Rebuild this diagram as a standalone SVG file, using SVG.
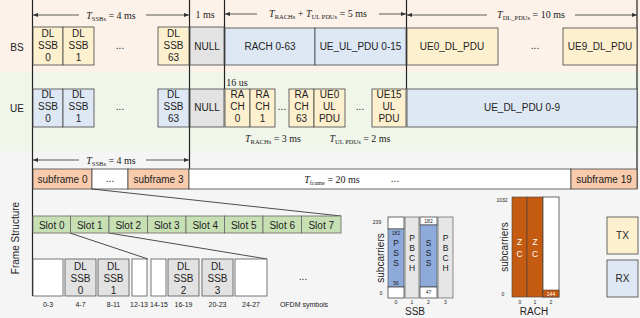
<svg xmlns="http://www.w3.org/2000/svg" width="640" height="318" viewBox="0 0 640 318">
<defs>
<marker id="ah" viewBox="0 0 6 6" refX="6" refY="3" markerWidth="5" markerHeight="5" orient="auto-start-reverse" markerUnits="userSpaceOnUse">
<path d="M0,0.5 L6,3 L0,5.5 z" fill="#333"/>
</marker>
<style>
.tx{fill:#fdf0cf;stroke:#444;stroke-width:0.8}
.rx{fill:#dde8f4;stroke:#444;stroke-width:0.8}
.nul{fill:#e3e3e3;stroke:#444;stroke-width:0.8}
.sub{fill:#f8cbad;stroke:#444;stroke-width:0.8}
.wh{fill:#ffffff;stroke:#444;stroke-width:0.8}
.slot{fill:#c6e0b4;stroke:#666;stroke-width:0.8}
.sym{fill:#ffffff;stroke:#555;stroke-width:0.8}
.symg{fill:#e2e2e2;stroke:#555;stroke-width:0.8}
.blue{fill:#8eaadb;stroke:#444;stroke-width:0.6}
.gry{fill:#e6e6e6;stroke:#444;stroke-width:0.6}
.or{fill:#c55a11;stroke:#444;stroke-width:0.6}
.ln{stroke:#222;stroke-width:1.2;fill:none}
.thin{stroke:#222;stroke-width:0.8;fill:none}
.ar{stroke:#333;stroke-width:0.8;fill:none}
text{font-family:"Liberation Sans",Arial,sans-serif;fill:#222}
.t{font-size:10px;text-anchor:middle}
.l{font-size:8.5px;text-anchor:middle}
.m{font-family:"Liberation Serif","Times New Roman",serif;font-size:10px;text-anchor:middle}
.tiny{font-size:5px;text-anchor:middle}
.w{fill:#fff}
</style>
</defs>
<!-- backgrounds -->
<rect x="0" y="0" width="640" height="72" fill="#fcf2ea"/>
<rect x="0" y="72" width="640" height="79" fill="#f1f6ea"/>
<rect x="0" y="151" width="640" height="167" fill="#f5f5f5"/>

<g id="axes">
<line class="ln" x1="32.5" y1="0" x2="32.5" y2="296"/>
<line class="ln" x1="189.5" y1="0" x2="189.5" y2="189"/>
<line class="ln" x1="224.5" y1="0" x2="224.5" y2="89"/>
<line class="ln" x1="406.5" y1="0" x2="406.5" y2="89"/>
<line class="ln" x1="637" y1="0" x2="637" y2="189"/>
</g>

<g id="timing">
<line class="ar" x1="33" y1="15" x2="79" y2="15" marker-start="url(#ah)"/>
<line class="ar" x1="146" y1="15" x2="189" y2="15" marker-end="url(#ah)"/>
<text class="m" x="111" y="18.5"><tspan font-style="italic">T</tspan><tspan font-size="6.5" dy="2">SSBs</tspan><tspan dy="-2"> = 4 ms</tspan></text>
<text class="m" x="205" y="18">1 ms</text>
<line class="ar" x1="225" y1="14" x2="257" y2="14" marker-start="url(#ah)"/>
<line class="ar" x1="379" y1="14" x2="406" y2="14" marker-end="url(#ah)"/>
<text class="m" x="318" y="17"><tspan font-style="italic">T</tspan><tspan font-size="6.5" dy="2">RACHs</tspan><tspan dy="-2"> + </tspan><tspan font-style="italic">T</tspan><tspan font-size="6.5" dy="2">UL PDUs</tspan><tspan dy="-2"> = 5 ms</tspan></text>
<line class="ar" x1="407" y1="15" x2="487" y2="15" marker-start="url(#ah)"/>
<line class="ar" x1="575" y1="15" x2="637" y2="15" marker-end="url(#ah)"/>
<text class="m" x="531" y="18"><tspan font-style="italic">T</tspan><tspan font-size="6.5" dy="2">DL_PDUs</tspan><tspan dy="-2"> = 10 ms</tspan></text>
<text class="m" x="237" y="86" font-size="9">16 us</text>
<text class="m" x="273" y="142"><tspan font-style="italic">T</tspan><tspan font-size="6.5" dy="2">RACHs</tspan><tspan dy="-2"> = 3 ms</tspan></text>
<text class="m" x="360" y="142"><tspan font-style="italic">T</tspan><tspan font-size="6.5" dy="2">UL PDUs</tspan><tspan dy="-2"> = 2 ms</tspan></text>
<line class="ar" x1="33" y1="160" x2="79" y2="160" marker-start="url(#ah)"/>
<line class="ar" x1="146" y1="160" x2="189" y2="160" marker-end="url(#ah)"/>
<text class="m" x="111" y="163.5"><tspan font-style="italic">T</tspan><tspan font-size="6.5" dy="2">SSBs</tspan><tspan dy="-2"> = 4 ms</tspan></text>
</g>

<g id="bs-row">
<text class="t" x="17" y="51">BS</text>
<rect class="tx" x="33" y="27" width="30" height="38"/>
<text class="t" x="48" y="37">DL</text><text class="t" x="48" y="49">SSB</text><text class="t" x="48" y="61">0</text>
<rect class="tx" x="63" y="27" width="31" height="38"/>
<text class="t" x="78.5" y="37">DL</text><text class="t" x="78.5" y="49">SSB</text><text class="t" x="78.5" y="61">1</text>
<text class="t" x="120" y="49">...</text>
<rect class="tx" x="158" y="27" width="31" height="38"/>
<text class="t" x="173.5" y="37">DL</text><text class="t" x="173.5" y="49">SSB</text><text class="t" x="173.5" y="61">63</text>
<rect class="nul" x="190" y="27" width="34" height="38"/>
<text class="t" x="207" y="50">NULL</text>
<rect class="rx" x="225" y="28" width="90" height="37"/>
<text class="t" x="270" y="50">RACH 0-63</text>
<rect class="rx" x="315" y="28" width="91" height="37"/>
<text class="t" x="360.5" y="50">UE_UL_PDU 0-15</text>
<rect class="tx" x="407" y="28" width="91" height="37"/>
<text class="t" x="452" y="50">UE0_DL_PDU</text>
<text class="t" x="535" y="49">...</text>
<rect class="tx" x="563" y="28" width="74" height="37"/>
<text class="t" x="600" y="50">UE9_DL_PDU</text>
</g>

<g id="ue-row">
<text class="t" x="17" y="112">UE</text>
<rect class="rx" x="33" y="89" width="30" height="38"/>
<text class="t" x="48" y="98">DL</text><text class="t" x="48" y="110">SSB</text><text class="t" x="48" y="122">0</text>
<rect class="rx" x="63" y="89" width="31" height="38"/>
<text class="t" x="78.5" y="98">DL</text><text class="t" x="78.5" y="110">SSB</text><text class="t" x="78.5" y="122">1</text>
<text class="t" x="120" y="110">...</text>
<rect class="rx" x="158" y="89" width="31" height="38"/>
<text class="t" x="173.5" y="98">DL</text><text class="t" x="173.5" y="110">SSB</text><text class="t" x="173.5" y="122">63</text>
<rect class="nul" x="190" y="89" width="34" height="38"/>
<text class="t" x="207" y="111">NULL</text>
<rect class="tx" x="225" y="89" width="25" height="38"/>
<text class="t" x="237.5" y="98">RA</text><text class="t" x="237.5" y="110">CH</text><text class="t" x="237.5" y="122">0</text>
<rect class="tx" x="250" y="89" width="25" height="38"/>
<text class="t" x="262.5" y="98">RA</text><text class="t" x="262.5" y="110">CH</text><text class="t" x="262.5" y="122">1</text>
<text class="t" x="282" y="110">...</text>
<rect class="tx" x="289" y="89" width="25" height="38"/>
<text class="t" x="301.5" y="98">RA</text><text class="t" x="301.5" y="110">CH</text><text class="t" x="301.5" y="122">63</text>
<rect class="tx" x="314" y="89" width="31" height="38"/>
<text class="t" x="329.5" y="98">UE0</text><text class="t" x="329.5" y="110">UL</text><text class="t" x="329.5" y="122">PDU</text>
<text class="t" x="360" y="110">...</text>
<rect class="tx" x="372" y="89" width="34" height="38"/>
<text class="t" x="389" y="98">UE15</text><text class="t" x="389" y="110">UL</text><text class="t" x="389" y="122">PDU</text>
<rect class="rx" x="407" y="89" width="230" height="38"/>
<text class="t" x="522" y="111">UE_DL_PDU 0-9</text>
</g>

<g id="subframes">
<rect class="sub" x="33" y="169" width="59" height="20"/>
<text class="t" x="62.5" y="183">subframe 0</text>
<rect class="wh" x="92" y="169" width="36" height="20"/>
<text class="t" x="110" y="182">...</text>
<rect class="sub" x="128" y="169" width="61" height="20"/>
<text class="t" x="158.5" y="183">subframe 3</text>
<rect class="wh" x="189" y="169" width="382" height="20"/>
<text class="m" x="332" y="183"><tspan font-style="italic">T</tspan><tspan font-size="6.5" dy="2">frame</tspan><tspan dy="-2"> = 20 ms</tspan></text>
<text class="t" x="395" y="182">...</text>
<rect class="sub" x="571" y="169" width="66" height="20"/>
<text class="t" x="604" y="183">subframe 19</text>
</g>

<g id="connectors">
<line class="thin" x1="92" y1="189" x2="341" y2="216"/>
<line class="thin" x1="70" y1="233" x2="148" y2="259"/>
<line class="thin" x1="109" y1="233" x2="267" y2="259"/>
</g>

<g id="frame-label">
<text class="t" transform="translate(19,238) rotate(-90)">Frame Structure</text>
</g>

<g id="slots">
<rect class="slot" x="33" y="216" width="37.5" height="17"/><text class="t" x="51.75" y="229">Slot 0</text>
<rect class="slot" x="70.5" y="216" width="38.5" height="17"/><text class="t" x="89.75" y="229">Slot 1</text>
<rect class="slot" x="109" y="216" width="38.5" height="17"/><text class="t" x="128.25" y="229">Slot 2</text>
<rect class="slot" x="147.5" y="216" width="38.5" height="17"/><text class="t" x="166.75" y="229">Slot 3</text>
<rect class="slot" x="186" y="216" width="38.5" height="17"/><text class="t" x="205.25" y="229">Slot 4</text>
<rect class="slot" x="224.5" y="216" width="38.5" height="17"/><text class="t" x="243.75" y="229">Slot 5</text>
<rect class="slot" x="263" y="216" width="38.5" height="17"/><text class="t" x="282.25" y="229">Slot 6</text>
<rect class="slot" x="301.5" y="216" width="39.5" height="17"/><text class="t" x="321.25" y="229">Slot 7</text>
</g>

<g id="ofdm">
<rect class="sym" x="33" y="259" width="30" height="37"/>
<rect class="symg" x="65" y="259" width="31" height="37"/>
<text class="t" x="80.5" y="270">DL</text><text class="t" x="80.5" y="282">SSB</text><text class="t" x="80.5" y="294">0</text>
<rect class="symg" x="98" y="259" width="31" height="37"/>
<text class="t" x="113.5" y="270">DL</text><text class="t" x="113.5" y="282">SSB</text><text class="t" x="113.5" y="294">1</text>
<rect class="sym" x="132" y="259" width="15" height="37"/>
<rect class="sym" x="151" y="259" width="15" height="37"/>
<rect class="symg" x="168" y="259" width="31" height="37"/>
<text class="t" x="183.5" y="270">DL</text><text class="t" x="183.5" y="282">SSB</text><text class="t" x="183.5" y="294">2</text>
<rect class="symg" x="202" y="259" width="31" height="37"/>
<text class="t" x="217.5" y="270">DL</text><text class="t" x="217.5" y="282">SSB</text><text class="t" x="217.5" y="294">3</text>
<rect class="sym" x="235" y="259" width="32" height="37"/>
<text class="t" x="303" y="280">...</text>
<g font-size="7" text-anchor="middle">
<text x="48" y="307">0-3</text>
<text x="80.5" y="307">4-7</text>
<text x="113.5" y="307">8-11</text>
<text x="139" y="307">12-13</text>
<text x="159" y="307">14-15</text>
<text x="183.5" y="307">16-19</text>
<text x="217.5" y="307">20-23</text>
<text x="251" y="307">24-27</text>
<text x="304" y="307">OFDM symbols</text>
</g>
</g>

<g id="ssb-grid">
<text class="t" font-size="8" transform="translate(384,258) rotate(-90)">subcarriers</text>
<text class="tiny" x="377" y="224">239</text>
<text class="tiny" x="381" y="295">0</text>
<rect class="wh" x="388" y="217" width="16" height="12" stroke-width="0.6"/>
<rect class="blue" x="388" y="229" width="16" height="58"/>
<rect class="wh" x="388" y="287" width="16" height="11" stroke-width="0.6"/>
<text class="tiny" x="396" y="235">182</text>
<text class="tiny" x="396" y="285">56</text>
<text class="l" x="396" y="246">P</text><text class="l" x="396" y="256">S</text><text class="l" x="396" y="266">S</text>
<rect class="gry" x="405" y="217" width="14" height="81"/>
<text class="l" x="412" y="241">P</text><text class="l" x="412" y="251">B</text><text class="l" x="412" y="261">C</text><text class="l" x="412" y="271">H</text>
<rect class="wh" x="420" y="217" width="17" height="8" stroke-width="0.6"/>
<rect class="blue" x="420" y="225" width="17" height="62"/>
<rect class="wh" x="420" y="287" width="17" height="11" stroke-width="0.6"/>
<text class="tiny" x="428.5" y="223">182</text>
<text class="tiny" x="428.5" y="294">47</text>
<text class="l" x="428.5" y="246">S</text><text class="l" x="428.5" y="256">S</text><text class="l" x="428.5" y="266">S</text>
<rect class="gry" x="438" y="217" width="15" height="81"/>
<text class="l" x="445.5" y="241">P</text><text class="l" x="445.5" y="251">B</text><text class="l" x="445.5" y="261">C</text><text class="l" x="445.5" y="271">H</text>
<text class="tiny" x="396" y="303.5">0</text><text class="tiny" x="412" y="303.5">1</text><text class="tiny" x="428.5" y="303.5">2</text><text class="tiny" x="445.5" y="303.5">3</text>
<text class="t" font-size="8" x="415" y="315">SSB</text>
</g>

<g id="rach-grid">
<text class="t" font-size="8" transform="translate(508,247) rotate(-90)">subcarriers</text>
<text class="tiny" x="502" y="202">1032</text>
<text class="tiny" x="503" y="296">0</text>
<rect class="or" x="512" y="197" width="15" height="100"/>
<rect class="or" x="527" y="197" width="16" height="100"/>
<rect class="wh" x="543" y="197" width="16" height="100" stroke-width="0.6"/>
<rect class="or" x="543" y="290" width="16" height="7"/>
<text class="tiny w" x="551" y="295.5" font-size="4.5">144</text>
<text class="l w" x="519.5" y="245">Z</text><text class="l w" x="519.5" y="257">C</text>
<text class="l w" x="535" y="245">Z</text><text class="l w" x="535" y="257">C</text>
<text class="tiny" x="520" y="303.5">0</text><text class="tiny" x="535" y="303.5">1</text><text class="tiny" x="551" y="303.5">2</text>
<text class="t" font-size="8" x="534" y="315">RACH</text>
</g>

<g id="legend-tx">
<rect class="tx" x="607" y="217" width="31" height="37"/>
<text class="t" x="622.5" y="239">TX</text>
</g>
<g id="legend-rx">
<rect class="rx" x="607" y="260" width="31" height="37"/>
<text class="t" x="622.5" y="282">RX</text>
</g>
</svg>
